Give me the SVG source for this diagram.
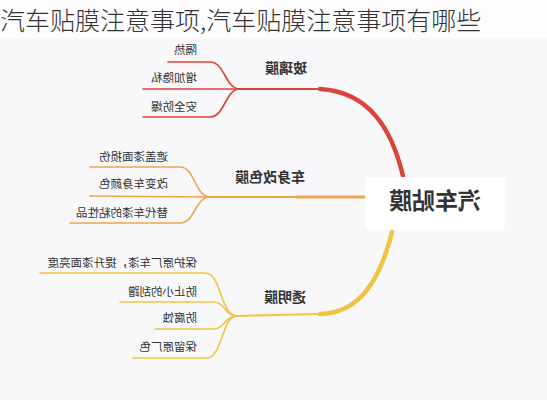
<svg xmlns="http://www.w3.org/2000/svg" width="547" height="400" viewBox="0 0 547 400">
<style>
.t{font-family:"Noto Sans CJK SC","Noto Sans",sans-serif;fill:#333}
.leaf{font-size:11.5px}
.lbl{font-size:14px;font-weight:bold;text-anchor:middle}
.red{stroke:#d9443b;fill:none;stroke-linecap:round}
.org{stroke:#eda64c;fill:none;stroke-linecap:round}
.yel{stroke:#f0c443;fill:none;stroke-linecap:round}
</style>
<rect width="547" height="400" fill="#f8f8fa"/>
<rect width="547" height="38" fill="#fdfdfd"/>
<text class="t" x="0" y="30" font-size="25" font-weight="300" fill="#3a3a3a">汽车贴膜注意事项,汽车贴膜注意事项有哪些</text>
<g transform="matrix(-1 0 0 1 547 0)">
  <g id="connectors">
    <path class="red" stroke-width="4.5" d="M144,176 C155,130 177,92 227,89"/>
    <path class="red" stroke-width="2" d="M227,89 L307,89"/>
    <path class="red" stroke-width="1.6" d="M307,89 C322,89 322,62 337,62 L379,62"/>
    <path class="red" stroke-width="1.6" d="M307,89 L404,89"/>
    <path class="red" stroke-width="1.6" d="M307,89 C322,89 322,117 337,117 L404,117"/>
    <path class="org" stroke-width="3" d="M182,197 L250,197"/>
    <path class="org" stroke-width="2" d="M250,197 L337,197"/>
    <path class="org" stroke-width="1.6" d="M337,197 C352,197 352,167 367,167 L457,167"/>
    <path class="org" stroke-width="1.6" d="M337,197 L457,196"/>
    <path class="org" stroke-width="1.6" d="M337,197 C352,197 352,223 367,223 L477,223"/>
    <path class="yel" stroke-width="4.5" d="M155,232 C167,280 187,313 227,314"/>
    <path class="yel" stroke-width="2" d="M227,314 L310,316"/>
    <path class="yel" stroke-width="1.6" d="M310,316 C327,316 325,273 342,273 L507,273"/>
    <path class="yel" stroke-width="1.6" d="M310,316 C322,316 322,302 334,302 L427,302"/>
    <path class="yel" stroke-width="1.6" d="M310,316 C322,316 322,329 334,329 L392,329"/>
    <path class="yel" stroke-width="1.6" d="M310,316 C325,316 325,358 340,358 L414,358"/>
  </g>
  <g id="center">
    <rect x="42" y="177" width="140" height="53" rx="4" fill="#ffffff"/>
    <text class="t" x="112" y="209" font-size="23" font-weight="bold" text-anchor="middle" fill="#111">汽车贴膜</text>
  </g>
  <g id="glass">
    <text class="t lbl" x="261" y="73">玻璃膜</text>
  </g>
  <g id="glass-1"><text class="t leaf" x="350" y="54">隔热</text></g>
  <g id="glass-2"><text class="t leaf" x="350" y="82">增加隐私</text></g>
  <g id="glass-3"><text class="t leaf" x="350" y="111">安全防爆</text></g>
  <g id="color">
    <text class="t lbl" x="277" y="182">车身改色膜</text>
  </g>
  <g id="color-1"><text class="t leaf" x="379" y="161">遮盖漆面损伤</text></g>
  <g id="color-2"><text class="t leaf" x="379" y="188">改变车身颜色</text></g>
  <g id="color-3"><text class="t leaf" x="379" y="217">替代车漆的粘性品</text></g>
  <g id="clear">
    <text class="t lbl" x="262" y="302">透明膜</text>
  </g>
  <g id="clear-1"><text class="t leaf" x="350" y="267">保护原厂车漆，提升漆面亮度</text></g>
  <g id="clear-2"><text class="t leaf" x="350" y="296">防止小的刮蹭</text></g>
  <g id="clear-3"><text class="t leaf" x="350" y="322">防腐蚀</text></g>
  <g id="clear-4"><text class="t leaf" x="350" y="351">保留原厂色</text></g>
</g>
</svg>
